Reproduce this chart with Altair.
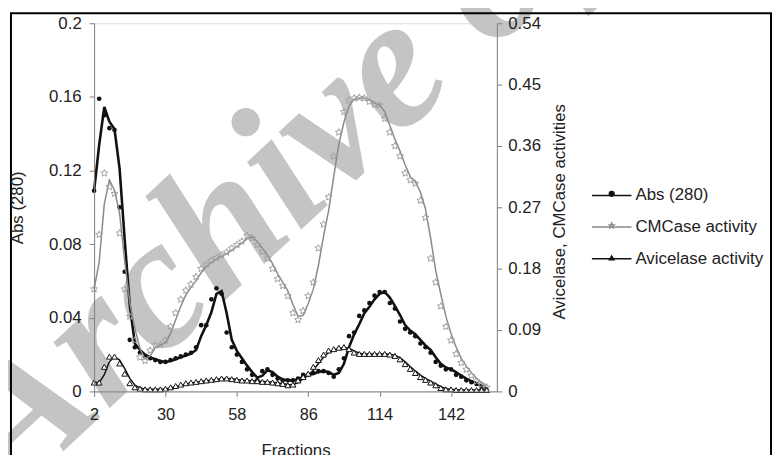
import altair as alt
import pandas as pd

# ---------------- data ----------------
fractions = list(range(2, 157, 2))

abs280 = [0.109, 0.159, 0.150, 0.143, 0.142, 0.100, 0.065, 0.028, 0.024, 0.021,
          0.019, 0.018, 0.017, 0.016, 0.016, 0.017, 0.018, 0.019, 0.020, 0.021,
          0.024, 0.036, 0.036, 0.050, 0.056, 0.053, 0.032, 0.024, 0.020, 0.016,
          0.012, 0.009, 0.006, 0.011, 0.012, 0.009, 0.007, 0.006, 0.006, 0.006,
          0.007, 0.009, 0.009, 0.010, 0.011, 0.011, 0.010, 0.008, 0.012, 0.018,
          0.030, 0.032, 0.041, 0.044, 0.048, 0.052, 0.054, 0.054, 0.048, 0.045,
          0.038, 0.034, 0.032, 0.030, 0.026, 0.024, 0.021, 0.016, 0.014, 0.012,
          0.012, 0.009, 0.008, 0.006, 0.005, 0.004, 0.002, 0.001]

cmcase = [0.150, 0.230, 0.320, 0.300, 0.290, 0.232, 0.150, 0.110, 0.075, 0.050,
          0.045, 0.060, 0.068, 0.068, 0.075, 0.095, 0.115, 0.135, 0.148, 0.157,
          0.168, 0.180, 0.186, 0.192, 0.196, 0.200, 0.204, 0.210, 0.215, 0.220,
          0.228, 0.225, 0.215, 0.205, 0.195, 0.180, 0.165, 0.155, 0.140, 0.115,
          0.105, 0.118, 0.140, 0.160, 0.210, 0.245, 0.285, 0.345, 0.380, 0.410,
          0.427, 0.430, 0.431, 0.430, 0.425, 0.421, 0.420, 0.400, 0.380, 0.360,
          0.345, 0.320, 0.310, 0.305, 0.280, 0.255, 0.195, 0.160, 0.125, 0.095,
          0.075, 0.055, 0.042, 0.032, 0.023, 0.015, 0.010, 0.006]

avicelase = [0.013, 0.013, 0.036, 0.051, 0.051, 0.041, 0.026, 0.012, 0.006, 0.004,
             0.003, 0.003, 0.003, 0.003, 0.004, 0.006, 0.008, 0.010, 0.012, 0.013,
             0.014, 0.015, 0.016, 0.017, 0.018, 0.019, 0.019, 0.018, 0.017, 0.016,
             0.016, 0.015, 0.015, 0.014, 0.014, 0.013, 0.012, 0.011, 0.009, 0.010,
             0.016, 0.021, 0.026, 0.036, 0.046, 0.054, 0.060, 0.062, 0.064, 0.065,
             0.062, 0.057, 0.055, 0.055, 0.055, 0.055, 0.055, 0.055, 0.054, 0.052,
             0.047, 0.040, 0.033, 0.027, 0.021, 0.017, 0.013, 0.009, 0.005, 0.003,
             0.003, 0.002, 0.002, 0.002, 0.002, 0.002, 0.002, 0.002]

series_names = ["Abs (280)", "CMCase  activity", "Avicelase activity"]
x_ticks = [2, 30, 58, 86, 114, 142]
left_ticks = [0, 0.04, 0.08, 0.12, 0.16, 0.2]
right_ticks = [0, 0.09, 0.18, 0.27, 0.36, 0.45, 0.54]

# ---------------- tables ----------------
df_abs = pd.DataFrame({"fraction": fractions, "value": abs280, "series": series_names[0]})
df_cm = pd.DataFrame({"fraction": fractions, "value": cmcase, "series": series_names[1]})
df_av = pd.DataFrame({"fraction": fractions, "value": avicelase, "series": series_names[2]})
df_legend = pd.DataFrame({"series": series_names})
df_one = pd.DataFrame({"k": [0]})

FONT = "Liberation Sans"
TXT = "#222222"
AX = "#808080"

STAR = ("M0,-1L0.265,-0.364L0.951,-0.309L0.428,0.139L0.588,0.809L0,0.45"
        "L-0.588,0.809L-0.428,0.139L-0.951,-0.309L-0.265,-0.364Z")

x_enc = alt.X(
    "fraction:Q",
    scale=alt.Scale(domain=[2, 160], nice=False, zero=False),
    axis=alt.Axis(values=x_ticks, title="Fractions", grid=False, domainColor=AX,
                  tickColor=AX, tickSize=5, labelPadding=10, labelFontSize=16.5,
                  labelFont=FONT, labelColor=TXT, titleFont=FONT, titleFontSize=17,
                  titleFontWeight="normal", titleColor=TXT, titlePadding=20,
                  labelFlush=False, zindex=1),
)

scale_left = alt.Scale(domain=[0, 0.2], nice=False)
axis_left = alt.Axis(orient="left", values=left_ticks, labelExpr="format(datum.value, '~g')",
                     title="Abs (280)", grid=False, domainColor=AX, tickColor=AX, tickSize=5,
                     labelPadding=8, labelFontSize=17, labelFont=FONT, labelColor=TXT,
                     titleFont=FONT, titleFontSize=17, titleFontWeight="normal",
                     titleColor=TXT, titleX=-77, titleY=186, titleAngle=270,
                     titleAlign="center", titleBaseline="middle",
                     labelFlush=False, zindex=1)

scale_right = alt.Scale(domain=[0, 0.54], nice=False)
axis_right = alt.Axis(orient="right", values=right_ticks, labelExpr="format(datum.value, '~g')",
                      title="Avicelase, CMCase activities", titleAngle=270, grid=False,
                      domainColor=AX, tickColor=AX, tickSize=5, labelPadding=6,
                      labelFontSize=17, labelFont=FONT, labelColor=TXT, titleFont=FONT,
                      titleFontSize=17, titleFontWeight="normal", titleColor=TXT,
                      titleX=63, titleY=190, titleAlign="center", titleBaseline="middle",
                      labelFlush=False, zindex=1)


def moving_line(df, scale, axis, color, width):
    return (
        alt.Chart(df)
        .transform_window(ma="mean(value)", frame=[-1, 0], sort=[{"field": "fraction"}])
        .mark_line(color=color, strokeWidth=width, interpolate="linear")
        .encode(x=x_enc, y=alt.Y("ma:Q", scale=scale, axis=axis), order="fraction:Q")
    )


abs_line = moving_line(df_abs, scale_left, axis_left, "#111111", 2.6)
abs_pts = alt.Chart(df_abs).mark_point(shape="circle", filled=True, color="#111111",
                                       size=22, opacity=1).encode(
    x=x_enc, y=alt.Y("value:Q", scale=scale_left, axis=axis_left))
left = alt.layer(abs_line, abs_pts)

cm_line = moving_line(df_cm, scale_right, axis_right, "#8a8a8a", 1.5)
cm_pts = alt.Chart(df_cm).mark_point(shape=STAR, filled=False, stroke="#a0a0a0",
                                     strokeWidth=1, size=55, opacity=1).encode(
    x=x_enc, y=alt.Y("value:Q", scale=scale_right, axis=axis_right))
av_line = moving_line(df_av, scale_right, axis_right, "#111111", 1.5)
av_pts = alt.Chart(df_av).mark_point(shape="triangle-up", filled=True, fill="white",
                                     stroke="#111111", strokeWidth=1, size=34,
                                     opacity=1).encode(
    x=x_enc, y=alt.Y("value:Q", scale=scale_right, axis=axis_right))
right = alt.layer(cm_line, cm_pts, av_line, av_pts)

# legend symbols: line + small marker
LEG_ABS = "M-1,0L1,0M0.12,-0.08A0.12,0.12 0 1,1 -0.12,-0.08A0.12,0.12 0 1,1 0.12,-0.08Z"
LEG_CM = ("M-1,0L1,0M0,-0.2L0.033,-0.118L0.12,-0.111L0.054,-0.055L0.074,0.03L0,-0.015"
          "L-0.074,0.03L-0.054,-0.055L-0.12,-0.111L-0.033,-0.118Z")
LEG_AV = "M-1,0L1,0M0,-0.14L0.11,0.045L-0.11,0.045Z"

legend_layer = (
    alt.Chart(df_legend)
    .transform_filter("false")
    .mark_point(opacity=1)
    .encode(
        shape=alt.Shape("series:N", scale=alt.Scale(domain=series_names, range=[LEG_ABS, LEG_CM, LEG_AV]),
                        legend=alt.Legend(orient="none", legendX=502, legendY=153, title=None,
                                          labelFont=FONT, labelFontSize=17, labelColor=TXT,
                                          symbolSize=1600, symbolStrokeWidth=1.5, labelOffset=3,
                                          rowPadding=3, labelLimit=300)),
        stroke=alt.Stroke("series:N", scale=alt.Scale(domain=series_names, range=["#111111", "#8a8a8a", "#111111"])),
        fill=alt.Fill("series:N", scale=alt.Scale(domain=series_names, range=["#111111", "white", "white"])),
    )
)

watermark = (
    alt.Chart(df_one)
    .mark_text(text="Archive of SID", font="Liberation Serif", fontStyle="italic",
               fontWeight="bold", fontSize=190, color="#c4c4c4", angle=317,
               align="left", baseline="alphabetic")
    .encode(x=alt.value(-80), y=alt.value(478))
)

border = (
    alt.Chart(df_one)
    .mark_rect(filled=False, stroke="black", strokeWidth=2)
    .encode(x=alt.value(-84), x2=alt.value(684), y=alt.value(-10), y2=alt.value(480))
)

chart = (
    alt.layer(watermark, left, right, legend_layer, border)
    .resolve_scale(y="independent")
    .properties(width=407, height=372,
                autosize=alt.AutoSizeParams(type="none"),
                padding={"left": 87, "top": 13, "right": 279, "bottom": 75})
    .configure_view(stroke=None)
    .configure(background="white")
)

chart.save("out.html", embed_options={"renderer": "svg", "actions": False})
